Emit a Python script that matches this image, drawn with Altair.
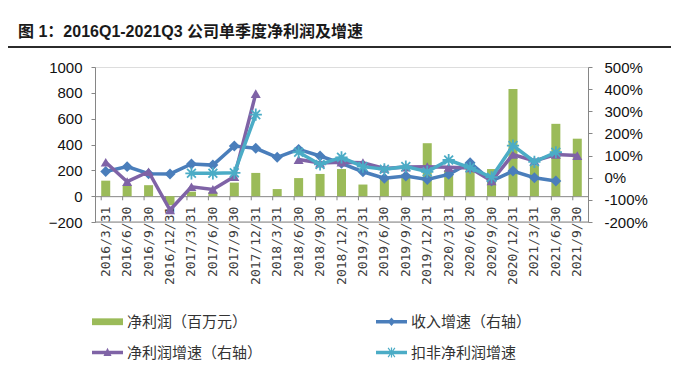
import altair as alt
import pandas as pd

quarters = ["2016/3/31", "2016/6/30", "2016/9/30", "2016/12/31", "2017/3/31", "2017/6/30",
            "2017/9/30", "2017/12/31", "2018/3/31", "2018/6/30", "2018/9/30", "2018/12/31",
            "2019/3/31", "2019/6/30", "2019/9/30", "2019/12/31", "2020/3/31", "2020/6/30",
            "2020/9/30", "2020/12/31", "2021/3/31", "2021/6/30", "2021/9/30"]
net_profit = [120, 85, 85, -70, 35, 30, 105, 180, 55, 140, 172, 210,
              90, 150, 170, 410, 200, 230, 210, 830, 240, 560, 445]
rev_growth = [28, 50, 18, 17, 62, 57, 143, 133, 92, 128, 98, 65,
              27, -2, 8, -8, 15, 68, -15, 30, 0, -15, None]
np_growth = [70, -18, 27, -146, -41, -53, 5, 380, None, 82, 66, 70,
             68, 42, 48, 50, 47, 44, -15, 105, 76, 105, 100]
adj_growth = [None, None, None, None, 20, 20, 22, 285, None, 115, 60, 92,
              50, 38, 50, 27, 80, 45, 2, 145, 72, 115, None]

series_names = ["净利润（百万元）", "收入增速（右轴）", "净利润增速（右轴）", "扣非净利润增速"]
colors = ["#9BBB59", "#4A7EBB", "#7F63A6", "#4BACC6"]
title_text = "图 1：2016Q1-2021Q3 公司单季度净利润及增速"
left_ticks = [-200, 0, 200, 400, 600, 800, 1000]
right_ticks = [-200, -100, 0, 100, 200, 300, 400, 500]

LATIN = "Liberation Sans, 'Noto Sans CJK SC'"
CJK = "'Noto Sans CJK SC'"
MONO = "DejaVu Sans Mono"
AXIS_GRAY = "#868686"

bar_df = pd.DataFrame({"quarter": quarters, "value": net_profit})


def long_form(values):
    rows = []
    seg = 0
    for q, v in zip(quarters, values):
        if v is None:
            seg += 1
            continue
        rows.append({"quarter": q, "value": v, "seg": seg})
    return pd.DataFrame(rows)


rev_df = long_form(rev_growth)
np_df = long_form(np_growth)
adj_df = long_form(adj_growth)

xscale = alt.Scale(domain=quarters, paddingInner=0.58, paddingOuter=0.29)
left_scale = alt.Scale(domain=[-200, 1000], nice=False, zero=False)
right_scale = alt.Scale(domain=[-200, 500], nice=False, zero=False)
color_scale = alt.Scale(domain=series_names, range=colors)

# legend symbols: bar rectangle, and line + marker shapes
P_BAR = "M-1,-0.22L1,-0.22L1,0.22L-1,0.22Z"
P_LINE = "M-1,-0.12L1,-0.12L1,0.12L-1,0.12Z"
P_DIAM = P_LINE + "M0,-0.27L0.24,0L0,0.27L-0.24,0Z"
P_TRI = P_LINE + "M-0.26,0.22L0,-0.3L0.26,0.22Z"
P_STAR = (P_LINE + "M-0.04,-0.32L0.04,-0.32L0.04,0.32L-0.04,0.32Z"
          "M-0.25,-0.27L-0.19,-0.33L0.25,0.27L0.19,0.33Z"
          "M0.19,-0.33L0.25,-0.27L-0.19,0.33L-0.25,0.27Z")
shape_scale = alt.Scale(domain=series_names, range=[P_BAR, P_DIAM, P_TRI, P_STAR])

legend = alt.Legend(
    title=None, orient="none", legendX=-3, legendY=239, columns=2, direction="horizontal",
    columnPadding=113, rowPadding=7, padding=0,
    symbolSize=961, symbolStrokeWidth=0, symbolOpacity=1,
    labelFont=CJK, labelFontSize=15, labelColor="#333333", labelOffset=4, labelLimit=300,
)

x_axis = alt.Axis(title=None, orient="bottom", offset=-25.83, labelAngle=270,
                  ticks=False, domainColor=AXIS_GRAY, domainWidth=1,
                  labelFont=MONO, labelFontSize=13, labelColor="#404040",
                  labelPadding=10, labelOverlap=False)
left_axis = alt.Axis(title=None, orient="left", values=left_ticks, grid=False, format="d",
                     tickSize=4, tickColor=AXIS_GRAY, domainColor=AXIS_GRAY,
                     labelFont=LATIN, labelFontSize=15, labelColor="#111111",
                     labelPadding=9)
right_axis = alt.Axis(title=None, orient="right", values=right_ticks, grid=False,
                      tickSize=4, tickColor=AXIS_GRAY, domainColor=AXIS_GRAY,
                      labelFont=LATIN, labelFontSize=15, labelColor="#111111",
                      labelPadding=12, labelExpr="datum.value + '%'")

X = alt.X("quarter:N", sort=quarters, scale=xscale, axis=x_axis, title=None)
YL = alt.Y("value:Q", scale=left_scale, axis=left_axis, title=None)
YR = alt.Y("value:Q", scale=right_scale, axis=right_axis, title=None)

bars = alt.Chart(bar_df).mark_bar(color=colors[0]).encode(x=X, y=YL)

zero_ticks = alt.Chart(bar_df).mark_rule(color=AXIS_GRAY, strokeWidth=1).encode(
    x=alt.X("quarter:N", sort=quarters, scale=xscale, axis=x_axis, title=None,
            bandPosition=0),
    y=alt.datum(0, scale=left_scale, axis=left_axis, title=None),
    y2=alt.datum(-32),
)

bottom_rule = alt.Chart(alt.Data(values=[{"value": -200}])).mark_rule(
    color=AXIS_GRAY, strokeWidth=1).encode(y=YL)

underline = alt.Chart(alt.Data(values=[{"v": 0}])).mark_rule(
    color="#2b2b2b", strokeWidth=2).encode(
    x=alt.value(-87), x2=alt.value(576), y=alt.value(-20))

title_mark = alt.Chart(alt.Data(values=[{"t": title_text}])).mark_text(
    align="left", baseline="alphabetic", font=LATIN, fontSize=16, fontWeight="bold",
    color="#1a1a1a").encode(text="t:N", x=alt.value(-77), y=alt.value(-30))

left_layer = alt.layer(bars, zero_ticks, bottom_rule, underline, title_mark)

STAR = "M-1,0L1,0M0,-1L0,1M-0.72,-0.72L0.72,0.72M-0.72,0.72L0.72,-0.72"


def series_layers(df, color, point_kw):
    ln = alt.Chart(df).mark_line(strokeWidth=3.5, color=color).encode(
        x=X, y=YR, detail="seg:N")
    pt = alt.Chart(df).mark_point(color=color, opacity=1, **point_kw).encode(x=X, y=YR)
    return [ln, pt]


rev_layers = series_layers(rev_df, colors[1], dict(shape="diamond", filled=True, size=120))
np_layers = series_layers(np_df, colors[2], dict(shape="triangle-up", filled=True, size=100))
adj_layers = series_layers(adj_df, colors[3], dict(shape=STAR, filled=False, size=150,
                                                  strokeWidth=1.8))

# legend-only layer: no marks drawn (filtered out), legend taken from the explicit domains
legend_layer = alt.Chart(pd.DataFrame({"series": series_names})).transform_filter(
    "false").mark_point(filled=True).encode(
    color=alt.Color("series:N", scale=color_scale, legend=legend),
    shape=alt.Shape("series:N", scale=shape_scale, legend=legend),
)

right_layer = alt.layer(*rev_layers, *np_layers, *adj_layers, legend_layer)

chart = alt.layer(left_layer, right_layer).resolve_scale(y="independent").properties(
    width=493, height=155,
    autosize=alt.AutoSizeParams(type="none"),
    padding={"left": 87, "top": 59, "right": 83, "bottom": 140},
).configure_view(stroke=None).configure(background="white")

chart.save("out.html", embed_options={"renderer": "svg", "actions": False})
